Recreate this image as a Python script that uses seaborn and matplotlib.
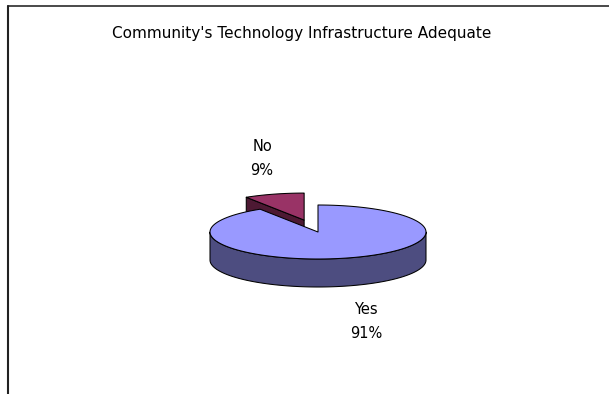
import numpy as np
import matplotlib
matplotlib.use("Agg")
import matplotlib.pyplot as plt
import seaborn as sns
from matplotlib.patches import Polygon
from matplotlib.lines import Line2D

# Survey answers and their shares (percent)
categories = ["Yes", "No"]
shares = [91, 9]
title = "Community's Technology Infrastructure Adequate"

sns.set_theme(style="white")
plt.rcParams["font.family"] = ["DejaVu Sans"]

W, H = 609, 394
fig = plt.figure(figsize=(W / 100, H / 100), dpi=100)
fig.patch.set_facecolor("white")
ax = fig.add_axes([0, 0, 1, 1])
ax.set_xlim(0, W)
ax.set_ylim(H, 0)
ax.axis("off")

# 3-D pie layout (pixel space of the canvas)
cx, cy = 318, 232      # centre of the top face
rx, ry = 108, 27       # ellipse radii of the top face
depth = 28             # thickness of the disc
explode = {"No": 0.46}

top_colors = {"Yes": "#9999FF", "No": "#993366"}
side_colors = {"Yes": "#4D4D80", "No": "#4D1933"}
edge_kw = dict(edgecolor="black", linewidth=0.75, joinstyle="round")


def pt(theta_deg, ox=0.0, oy=0.0, dz=0.0):
    t = np.deg2rad(theta_deg)
    return (cx + ox + rx * np.cos(t), cy + oy - ry * np.sin(t) + dz)


def arc(t0, t1, ox=0.0, oy=0.0, dz=0.0, n=120):
    ts = np.linspace(t0, t1, n)
    return [pt(t, ox, oy, dz) for t in ts]


# slices start at 12 o'clock and run clockwise
total = float(sum(shares))
bounds = {}
angle = 90.0
for cat, val in zip(categories, shares):
    sweep = 360.0 * val / total
    bounds[cat] = (angle, angle - sweep)
    angle -= sweep


def offset(cat):
    f = explode.get(cat, 0.0)
    a0, a1 = bounds[cat]
    mid = np.deg2rad((a0 + a1) / 2)
    return f * rx * np.cos(mid), -f * ry * np.sin(mid)


# --- "No" slice (behind, exploded) ---
a0, a1 = bounds["No"]
ox, oy = offset("No")
tip = (cx + ox, cy + oy)
# radial cut face on the side facing the viewer
p_edge = pt(a0, ox, oy)
cut = [tip, p_edge, (p_edge[0], p_edge[1] + depth), (tip[0], tip[1] + depth)]
ax.add_patch(Polygon(cut, closed=True, facecolor=side_colors["No"], zorder=1, **edge_kw))
top_no = [tip] + arc(a0, a1, ox, oy)
ax.add_patch(Polygon(top_no, closed=True, facecolor=top_colors["No"], zorder=2, **edge_kw))

# --- "Yes" slice (front) ---
a0, a1 = bounds["Yes"]
ox, oy = offset("Yes")
front0, front1 = max(a1, -180.0), min(a0, 0.0)
side_top = arc(front1, front0, ox, oy)
side_bot = arc(front0, front1, ox, oy, dz=depth)
ax.add_patch(Polygon(side_top + side_bot, closed=True,
                     facecolor=side_colors["Yes"], zorder=3, **edge_kw))
top_yes = [(cx + ox, cy + oy)] + arc(a0, a1, ox, oy)
ax.add_patch(Polygon(top_yes, closed=True, facecolor=top_colors["Yes"], zorder=4, **edge_kw))

# data labels
label_pos = {"No": (262, 158), "Yes": (366, 322)}
for cat, val in zip(categories, shares):
    x, y = label_pos[cat]
    ax.text(x, y, f"{cat}\n{val}%", ha="center", va="center",
            fontsize=10.5, color="black", linespacing=1.75)

# chart title
ax.text(302, 33, title, ha="center", va="center", fontsize=11, color="black")

# chart area border (top and left edges)
ax.add_line(Line2D([7.5, W], [5.5, 5.5], color="#3a3a3a", linewidth=1.3))
ax.add_line(Line2D([7.5, 7.5], [5.5, H], color="#222222", linewidth=1.5))

fig.savefig("out.png", dpi=100, facecolor="white")
